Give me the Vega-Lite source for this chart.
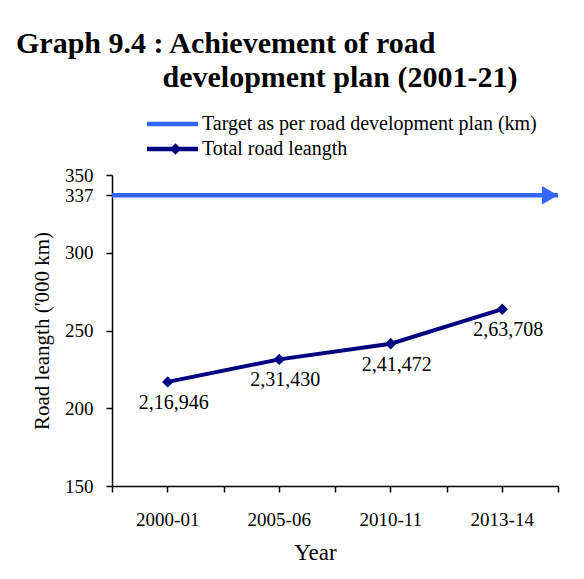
{
  "$schema": "https://vega.github.io/schema/vega-lite/v6.json",
  "autosize": "none",
  "width": 446,
  "height": 311,
  "padding": {"left": 112, "top": 175, "right": 26, "bottom": 93},
  "background": "white",
  "title": {
    "text": "Graph 9.4 : Achievement of road",
    "anchor": "start",
    "frame": "group",
    "dx": -96,
    "dy": 30,
    "offset": 10,
    "baseline": "alphabetic",
    "font": "Liberation Serif",
    "fontSize": 30,
    "fontWeight": "bold",
    "color": "black"
  },
  "datasets": {
    "roads": [
      {"year": "2000-01", "series": "Total road leangth", "value": 216.946, "label": "2,16,946"},
      {"year": "2005-06", "series": "Total road leangth", "value": 231.430, "label": "2,31,430"},
      {"year": "2010-11", "series": "Total road leangth", "value": 241.472, "label": "2,41,472"},
      {"year": "2013-14", "series": "Total road leangth", "value": 263.708, "label": "2,63,708"}
    ],
    "target": [
      {"series": "Target as per road development plan (km)", "value": 337}
    ]
  },
  "config": {
    "view": {"stroke": null},
    "font": "Liberation Serif",
    "axis": {
      "labelFont": "Liberation Serif",
      "titleFont": "Liberation Serif",
      "labelColor": "black",
      "titleColor": "black",
      "domainColor": "black",
      "tickColor": "black",
      "domainWidth": 1.5,
      "tickWidth": 1.5,
      "grid": false,
      "titleFontWeight": "normal"
    },
    "legend": {
      "labelFont": "Liberation Serif",
      "labelColor": "black",
      "labelLimit": 0,
      "titleLimit": 0
    }
  },
  "layer": [
    {
      "data": {"name": "target"},
      "mark": {"type": "rule", "strokeWidth": 4.5},
      "encoding": {
        "y": {"field": "value", "type": "quantitative"},
        "color": {
          "field": "series",
          "type": "nominal",
          "scale": {
            "domain": ["Target as per road development plan (km)", "Total road leangth"],
            "range": ["#3366FF", "#000080"]
          },
          "legend": {
            "title": "development plan (2001-21)",
            "titleFont": "Liberation Serif",
            "titleFontSize": 30,
            "titleFontWeight": "bold",
            "titleColor": "black",
            "titlePadding": 21,
            "titleAnchor": "start",
            "orient": "none",
            "legendX": 50.5,
            "legendY": -112,
            "padding": 0,
            "symbolType": "M-4,0H4",
            "symbolSize": 162.6,
            "symbolStrokeWidth": 4.5,
            "labelFontSize": 20,
            "labelOffset": 19.5,
            "rowPadding": 5
          }
        }
      }
    },
    {
      "data": {"name": "target"},
      "mark": {"type": "point", "shape": "triangle-right", "filled": true, "color": "#3366FF", "size": 340, "opacity": 1, "xOffset": -8},
      "encoding": {
        "x": {"value": "width"},
        "y": {"field": "value", "type": "quantitative"}
      }
    },
    {
      "data": {"name": "roads"},
      "mark": {"type": "line", "strokeWidth": 4},
      "encoding": {
        "x": {
          "field": "year",
          "type": "nominal",
          "sort": null,
          "scale": {"paddingInner": 0, "paddingOuter": 0},
          "axis": {
            "orient": "bottom",
            "title": "Year",
            "titleFontSize": 23,
            "titleX": 203,
            "titlePadding": 12,
            "labelAngle": 0,
            "labelFontSize": 19,
            "labelPadding": 18,
            "tickSize": 6,
            "tickBand": "center"
          }
        },
        "y": {
          "field": "value",
          "type": "quantitative",
          "scale": {"domain": [150, 350], "nice": false, "zero": false},
          "axis": {
            "title": "Road leangth ('000 km)",
            "titleFontSize": 21,
            "titlePadding": 12,
            "values": [150, 200, 250, 300, 337, 350],
            "labelFontSize": 19,
            "labelPadding": 13,
            "tickSize": 6,
            "labelOverlap": false
          }
        },
        "color": {"field": "series", "type": "nominal"}
      }
    },
    {
      "data": {"name": "roads"},
      "mark": {"type": "point", "filled": true, "color": "#000080", "size": 130, "opacity": 1},
      "encoding": {
        "x": {
          "field": "year",
          "type": "nominal",
          "sort": null,
          "axis": {
            "orient": "bottom",
            "title": null,
            "labels": false,
            "domain": false,
            "tickSize": 6,
            "tickBand": "extent"
          }
        },
        "y": {"field": "value", "type": "quantitative"},
        "shape": {
          "field": "series",
          "type": "nominal",
          "scale": {"domain": ["none", "Total road leangth"], "range": ["M0,0", "diamond"]},
          "legend": {
            "title": null,
            "orient": "none",
            "legendX": 53.5,
            "legendY": -61,
            "padding": 0,
            "symbolSize": 130,
            "symbolFillColor": "#000080",
            "symbolStrokeColor": "#000080",
            "symbolStrokeWidth": 0,
            "labelFontSize": 20,
            "labelOffset": 6,
            "labelOpacity": 0,
            "labelExpr": "' '",
            "rowPadding": 5
          }
        }
      }
    },
    {
      "data": {"name": "roads"},
      "mark": {"type": "text", "font": "Liberation Serif", "fontSize": 20, "color": "black", "dx": 6, "dy": 21},
      "encoding": {
        "x": {"field": "year", "type": "nominal", "sort": null, "axis": null},
        "y": {"field": "value", "type": "quantitative"},
        "text": {"field": "label"}
      }
    }
  ],
  "resolve": {"axis": {"x": "independent"}}
}
